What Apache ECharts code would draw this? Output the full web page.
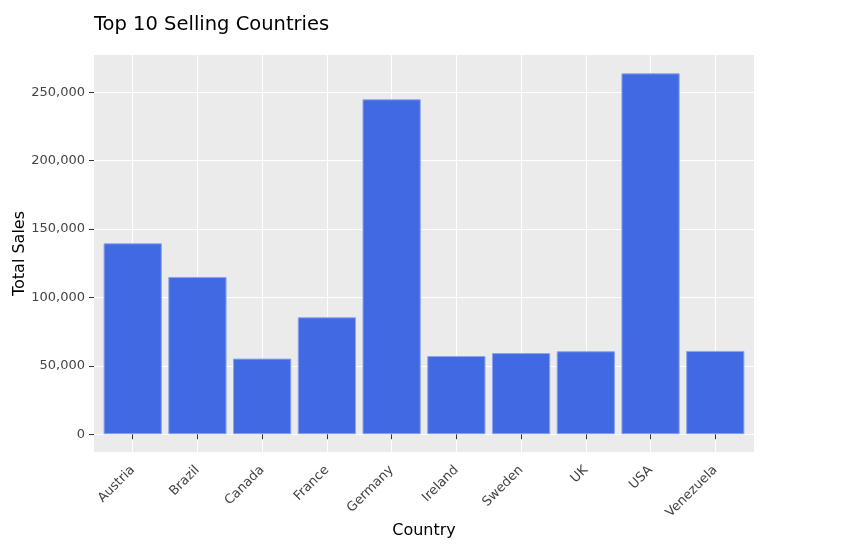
<!DOCTYPE html>
<html><head><meta charset="utf-8">
<script src="https://cdn.jsdelivr.net/npm/echarts@6/dist/echarts.min.js"></script>
<style>html,body{margin:0;padding:0;background:#fff}#c{width:859px;height:557px}</style>
</head><body><div id="c"></div>
<script>
const categories = ['Austria','Brazil','Canada','France','Germany','Ireland','Sweden','UK','USA','Venezuela'];
const totalSales = [139600, 115000, 55300, 85500, 244900, 57200, 59400, 60700, 263900, 60900];
const yTicks = [0, 50000, 100000, 150000, 200000, 250000];
const yMin = -13000, yMax = 277300;
const font = '"DejaVu Sans", Verdana, sans-serif';

const chart = echarts.init(document.getElementById('c'), null, {renderer: 'canvas'});
chart.setOption({
  animation: false,
  title: {text: 'Top 10 Selling Countries', left: 89, top: 10,
    textStyle: {fontFamily: font, fontSize: 19.5, fontWeight: 'normal', color: '#000'}},
  grid: [
    {left: 94, right: 105, top: 55, bottom: 105, show: true, backgroundColor: '#ebebeb', borderWidth: 0,
      containLabel: false, outerBoundsMode: 'none'},
    {left: 100.35, right: 111.35, top: 55, bottom: 105, containLabel: false, outerBoundsMode: 'none'}
  ],
  xAxis: [
    {gridIndex: 0, type: 'value', min: 0, max: 1, show: false},
    {gridIndex: 1, type: 'category', data: categories, boundaryGap: true,
      axisLine: {show: false},
      axisTick: {show: true, alignWithLabel: true, length: 5, lineStyle: {color: '#333'}},
      splitLine: {show: true, alignWithLabel: true, lineStyle: {color: '#fff', width: 1}},
      axisLabel: {rotate: 45, color: '#444', fontFamily: font, fontSize: 13, margin: 16, interval: 0},
      name: 'Country', nameLocation: 'middle', nameGap: 71, nameMoveOverlap: false,
      nameTextStyle: {fontFamily: font, fontSize: 16, color: '#000'}}
  ],
  yAxis: [
    {gridIndex: 0, type: 'value', min: yMin, max: yMax,
      axisLine: {show: false},
      axisTick: {show: true, length: 5, customValues: yTicks, lineStyle: {color: '#333'}},
      axisLabel: {customValues: yTicks, color: '#444', fontFamily: font, fontSize: 13, margin: 9,
        formatter: v => v.toLocaleString('en-US')},
      splitLine: {show: true, lineStyle: {color: '#fff', width: 1}},
      name: 'Total Sales', nameLocation: 'middle', nameGap: 66, nameMoveOverlap: false,
      nameTextStyle: {fontFamily: font, fontSize: 16, color: '#000'}},
    {gridIndex: 1, type: 'value', min: yMin, max: yMax, show: false, splitLine: {show: false}}
  ],
  series: [{
    type: 'bar', xAxisIndex: 1, yAxisIndex: 1, data: totalSales,
    barCategoryGap: '10%',
    itemStyle: {color: '#4169e1', borderColor: '#8ea5ee', borderWidth: 1}
  }]
});
</script></body></html>
